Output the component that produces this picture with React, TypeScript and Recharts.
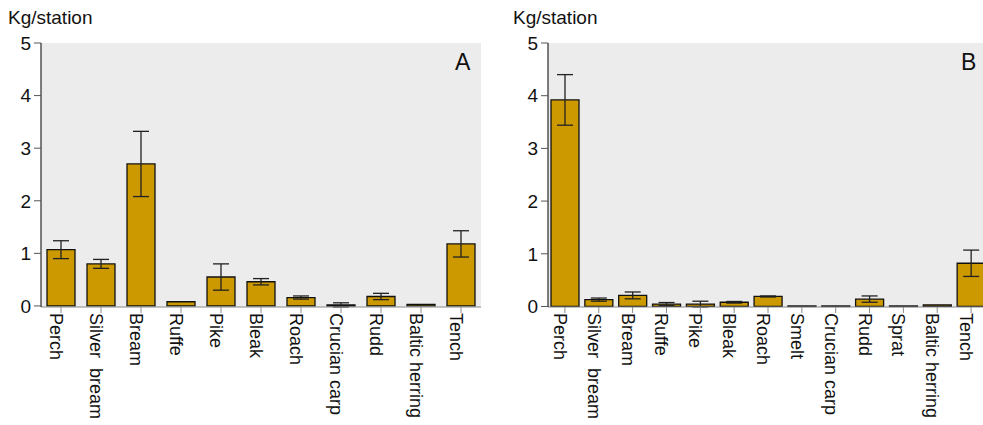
import React from 'react';
import { BarChart, Bar, XAxis, YAxis, CartesianGrid, ErrorBar } from 'recharts';

// panel A
const speciesA = ['Perch', 'Silver  bream', 'Bream', 'Ruffe', 'Pike', 'Bleak', 'Roach', 'Crucian carp', 'Rudd', 'Baltic herring', 'Tench'];
const meanA = [1.07, 0.8, 2.7, 0.08, 0.55, 0.46, 0.16, 0.02, 0.18, 0.03, 1.18];
const errA = [0.17, 0.085, 0.62, 0, 0.25, 0.06, 0.03, 0.04, 0.06, 0, 0.25];

// panel B
const speciesB = ['Perch', 'Silver  bream', 'Bream', 'Ruffe', 'Pike', 'Bleak', 'Roach', 'Smelt', 'Crucian carp', 'Rudd', 'Sprat', 'Baltic herring', 'Tench'];
const meanB = [3.92, 0.13, 0.21, 0.045, 0.045, 0.08, 0.19, 0.01, 0.01, 0.14, 0.01, 0.03, 0.82];
const errB = [0.48, 0.03, 0.065, 0.03, 0.055, 0.015, 0.01, 0, 0, 0.06, 0, 0, 0.25];

const yTicks = [0, 1, 2, 3, 4, 5];

const FONT = '"Liberation Sans", Arial, sans-serif';
const BAR_FILL = '#CC9900';

const toRows = (names: string[], mean: number[], err: number[]) =>
  names.map((name, i) => ({ name, value: mean[i], err: err[i] }));

const SpeciesTick = (props: any) => {
  const { x, y, payload } = props;
  return (
    <g transform={`translate(${x},${y})`}>
      <text
        transform="rotate(90)"
        x={0}
        y={11}
        textAnchor="start"
        fontSize={18}
        fill="#111"
        fontFamily={FONT}
        style={{ whiteSpace: 'pre' }}
      >
        {payload.value}
      </text>
    </g>
  );
};

interface PanelProps {
  rows: { name: string; value: number; err: number }[];
  width: number;
  yWidth: number;
  right: number;
}

const Panel: React.FC<PanelProps> = ({ rows, width, yWidth, right }) => (
  <BarChart
    width={width}
    height={425}
    data={rows}
    margin={{ top: 43, right, bottom: 0, left: 0 }}
    barSize={28}
  >
    <CartesianGrid horizontal={false} vertical={false} fill="#ECECEC" />
    <XAxis
      dataKey="name"
      interval={0}
      height={118}
      stroke="#8a8a8a"
      tickSize={6}
      tickMargin={0}
      tick={<SpeciesTick />}
    />
    <XAxis xAxisId="top" orientation="top" dataKey="name" height={0} tick={false} tickLine={false} stroke="#9a9a9a" />
    <YAxis
      domain={[0, 5]}
      ticks={yTicks}
      width={yWidth}
      stroke="#000"
      tickSize={7}
      tickMargin={3}
      tick={{ fontSize: 19, fill: '#111', fontFamily: FONT }}
      tickLine={{ stroke: '#555' }}
    />
    <YAxis yAxisId="right" orientation="right" domain={[0, 5]} width={0} tick={false} tickLine={false} stroke="#9a9a9a" />
    <Bar dataKey="value" fill={BAR_FILL} stroke="#111" strokeWidth={1.3} isAnimationActive={false}>
      <ErrorBar dataKey="err" width={8} stroke="#222" strokeWidth={1.3} isAnimationActive={false} />
    </Bar>
  </BarChart>
);

const label = (left: number, top: number, size: number): React.CSSProperties => ({
  position: 'absolute',
  left,
  top,
  fontSize: size,
  fontFamily: FONT,
  color: '#111',
  lineHeight: 1,
  whiteSpace: 'nowrap',
});

export default function App() {
  return (
    <div style={{ position: 'fixed', left: 0, top: 0, width: 983, height: 425, overflow: 'hidden', background: '#fff' }}>
      <div style={{ position: 'absolute', left: 0, top: 0 }}>
        <Panel rows={toRows(speciesA, meanA, errA)} width={490} yWidth={41} right={9} />
      </div>
      <div style={{ position: 'absolute', left: 490, top: 0 }}>
        <Panel rows={toRows(speciesB, meanB, errB)} width={500} yWidth={58} right={2} />
      </div>
      <div style={label(8, 8, 19)}>Kg/station</div>
      <div style={label(513, 8, 19)}>Kg/station</div>
      <div style={label(455, 51, 23)}>A</div>
      <div style={label(961, 51, 23)}>B</div>
    </div>
  );
}
